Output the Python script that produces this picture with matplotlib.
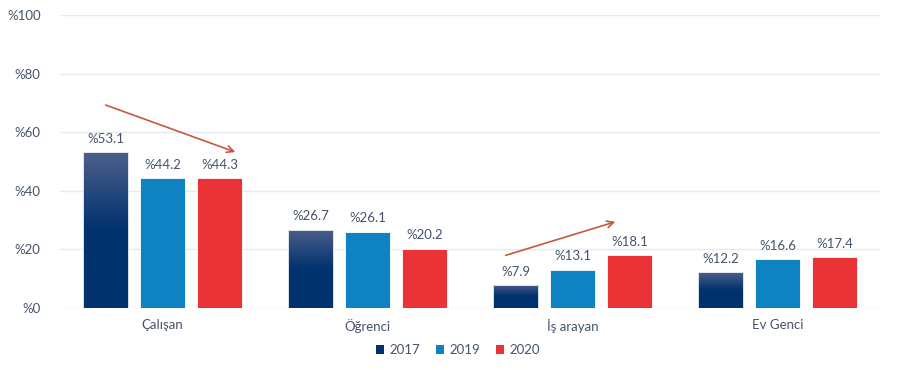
import matplotlib
matplotlib.use("Agg")
import matplotlib.pyplot as plt
import numpy as np
from matplotlib.colors import LinearSegmentedColormap
from matplotlib.patches import Patch

categories = ["Çalışan", "Öğrenci", "İş arayan", "Ev Genci"]
years = ["2017", "2019", "2020"]
v2017 = [53.1, 26.7, 7.9, 12.2]
v2019 = [44.2, 26.1, 13.1, 16.6]
v2020 = [44.3, 20.2, 18.1, 17.4]
yticks = [0, 20, 40, 60, 80, 100]

plt.rcParams['font.family'] = ['Lato', 'DejaVu Sans']
text_color = "#44546a"
c2017_top, c2017_bot = "#4c5f8b", "#00326e"
c2019 = "#0f83c1"
c2020 = "#e93337"

fig = plt.figure(figsize=(9, 3.7), dpi=100)
ax = fig.add_axes([60/900, 62/370, 820/900, 293/370])

x = np.arange(len(categories))
w = 0.22
gap = 0.278
series = [v2017, v2019, v2020]
cols = [c2017_bot, c2019, c2020]

cmap = LinearSegmentedColormap.from_list("g", [(0, c2017_bot), (0.5, c2017_bot), (1.0, c2017_top)])
grad = np.linspace(0, 1, 256).reshape(-1, 1)

for i, vals in enumerate(series):
    pos = x + (i - 1) * gap
    bars = ax.bar(pos, vals, width=w, color=cols[i], zorder=3,
                  edgecolor="white", linewidth=0.6)
    if i == 0:
        for b in bars:
            b.set_facecolor("none")
            x0, y0 = b.get_x(), b.get_y()
            im = ax.imshow(grad, extent=[x0, x0 + b.get_width(), y0, y0 + b.get_height()],
                           origin="lower", cmap=cmap, aspect="auto", zorder=2.5)
            im.set_clip_path(b)
    for p, v in zip(pos, vals):
        ax.text(p, v + 2.5, f"%{v:.1f}", ha="center", va="bottom",
                fontsize=9.5, color=text_color, zorder=4)

ax.set_xlim(-0.5, 3.5)
ax.set_ylim(0, 100)
ax.set_yticks(yticks)
ax.set_yticklabels([f"%{t}" for t in yticks])
ax.set_xticks(x)
ax.set_xticklabels(categories)
ax.tick_params(axis="both", length=0, colors=text_color, labelsize=9.5)
ax.tick_params(axis="y", pad=14)
ax.tick_params(axis="x", pad=8)
ax.grid(axis="y", color="#e3eaf3", linewidth=1, zorder=0)
for s in ax.spines.values():
    s.set_visible(False)

arrow_style = dict(arrowstyle="->", color="#c8573f", lw=1.2, mutation_scale=12)
ax.annotate("", xy=(0.368, 52.9), xytext=(-0.29, 69.6), arrowprops=arrow_style, zorder=5)
ax.annotate("", xy=(2.222, 29.7), xytext=(1.661, 17.7), arrowprops=arrow_style, zorder=5)

handles = [Patch(facecolor=c2017_bot), Patch(facecolor=c2019), Patch(facecolor=c2020)]
fig.legend(handles, years, loc="center", bbox_to_anchor=(458/900, 1 - 350/370), ncol=3,
           frameon=False, fontsize=9.5, handlelength=0.6, handleheight=0.6,
           handletextpad=0.4, columnspacing=1.2, labelcolor=text_color)

fig.savefig("out.png", dpi=100)
